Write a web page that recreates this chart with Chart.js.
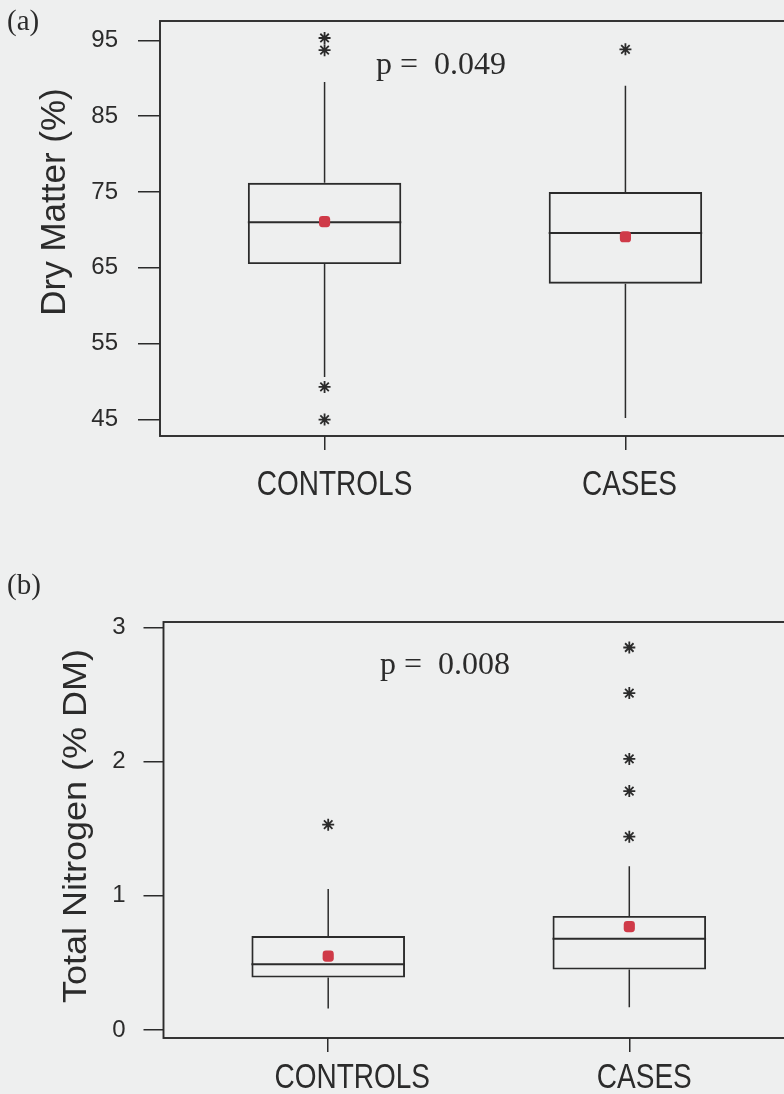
<!DOCTYPE html>
<html>
<head>
<meta charset="utf-8">
<script src="https://cdn.jsdelivr.net/npm/chart.js@4.4.1/dist/chart.umd.min.js"></script>
<style>
  html, body { margin: 0; padding: 0; background: #eeefef; width: 784px; height: 1094px; overflow: hidden; }
  .panel { position: absolute; left: 0; }
  #pa { top: 0; }
  #pb { top: 545px; }
  canvas { display: block; }
</style>
</head>
<body>
<div class="panel" id="pa"><canvas id="ca" width="820" height="545"></canvas></div>
<div class="panel" id="pb"><canvas id="cb" width="820" height="549"></canvas></div>
<script>
// ---- data ----
const groups = ['CONTROLS', 'CASES'];

// (a) Dry matter (%)
const dmQ1      = [65.5, 62.9];
const dmMedian  = [71.0, 69.6];
const dmQ3      = [76.2, 75.0];
const dmLow     = [50.6, 45.2];
const dmHigh    = [89.5, 89.0];
const dmMean    = [71.1, 69.1];
const dmOutliers = [[95.3, 93.7, 49.3, 45.0], [93.8]];
const dmTicks   = [45, 55, 65, 75, 85, 95];
const dmP       = 'p =  0.049';

// (b) Total nitrogen (% DM)
const tnQ1      = [0.39, 0.45];
const tnMedian  = [0.49, 0.68];
const tnQ3      = [0.70, 0.85];
const tnLow     = [0.16, 0.17];
const tnHigh    = [1.05, 1.22];
const tnMean    = [0.55, 0.77];
const tnOutliers = [[1.53], [2.85, 2.51, 2.02, 1.78, 1.44]];
const tnTicks   = [0, 1, 2, 3];
const tnP       = 'p =  0.008';

// ---- styling ----
const INK = '#2b2b2b';
const MEAN_RED = '#cf3a48';
const BOX_WIDTH = 0.51;          // box width in x-axis units
const HALF = BOX_WIDTH / 2;

function buildDatasets(q1, med, q3, lo, hi, mean, outliers) {
  const boxes = groups.map((g, i) => ({ x: i + 1, y: [q1[i], q3[i]] }));
  const whiskers = [];
  const medians = [];
  groups.forEach((g, i) => {
    const x = i + 1;
    whiskers.push({ x, y: q3[i] }, { x, y: hi[i] }, { x, y: null },
                  { x, y: q1[i] }, { x, y: lo[i] }, { x, y: null });
    medians.push({ x: x - HALF, y: med[i] }, { x: x + HALF, y: med[i] }, { x, y: null });
  });
  const means = groups.map((g, i) => ({ x: i + 1, y: mean[i] }));
  const outs = [];
  outliers.forEach((arr, i) => arr.forEach(v => outs.push({ x: i + 1, y: v })));
  return [
    { type: 'line', data: whiskers, borderColor: INK, borderWidth: 1.5, pointRadius: 0, spanGaps: false, order: 4 },
    { type: 'bar', data: boxes, backgroundColor: 'rgba(0,0,0,0)', borderColor: INK, borderWidth: 1.9,
      borderSkipped: false, barPercentage: BOX_WIDTH, categoryPercentage: 1, order: 3 },
    { type: 'line', data: medians, borderColor: INK, borderWidth: 2, pointRadius: 0, spanGaps: false, order: 2 },
    { type: 'scatter', data: means, pointStyle: 'rectRounded', radius: 6.5, backgroundColor: MEAN_RED,
      borderWidth: 0, order: 1 },
    { type: 'scatter', data: outs, pointStyle: 'star', radius: 6, borderColor: INK, borderWidth: 1.8,
      backgroundColor: INK, order: 0 }
  ];
}

function panel(canvasId, p) {
  const decor = {
    id: 'decor',
    beforeDatasetsDraw(chart) {
      const ctx = chart.ctx, a = chart.chartArea;
      ctx.save();
      ctx.strokeStyle = INK;
      ctx.lineWidth = 1.9;
      ctx.strokeRect(a.left, a.top, a.right - a.left, a.bottom - a.top);
      ctx.restore();
    },
    afterDraw(chart) {
      const ctx = chart.ctx, a = chart.chartArea, xs = chart.scales.x;
      ctx.save();
      ctx.fillStyle = INK;
      ctx.textBaseline = 'alphabetic';
      // panel tag
      ctx.textAlign = 'left';
      ctx.font = '29px "Liberation Serif", "DejaVu Serif", serif';
      ctx.fillText(p.tag, 7, p.tagY);
      // p-value
      ctx.font = '32px "Liberation Serif", "DejaVu Serif", serif';
      ctx.fillText(p.pText, p.pX, p.pY);
      // group labels under the x ticks
      groups.forEach((g, i) => {
        const px = xs.getPixelForValue(i + 1) + p.labelShift[i];
        ctx.save();
        ctx.translate(px, a.bottom + p.labelDy);
        ctx.scale(0.8, 1);
        ctx.font = '35px "Liberation Sans", Arial, sans-serif';
        ctx.textAlign = 'center';
        ctx.fillText(g, 0, 0);
        ctx.restore();
      });
      // y-axis title
      ctx.save();
      ctx.translate(p.titleX, p.titleY);
      ctx.rotate(-Math.PI / 2);
      ctx.scale(1, p.titleSquash);
      ctx.font = p.titleSize + 'px "Liberation Sans", Arial, sans-serif';
      ctx.textAlign = 'center';
      ctx.textBaseline = 'middle';
      ctx.fillText(p.title, 0, 0);
      ctx.restore();
      ctx.restore();
    }
  };

  const canvas = document.getElementById(canvasId);
  return new Chart(canvas, {
    type: 'bar',
    data: { datasets: buildDatasets(p.q1, p.med, p.q3, p.lo, p.hi, p.mean, p.outliers) },
    options: {
      responsive: false,
      animation: false,
      events: [],
      layout: { padding: { left: 0, top: p.top, right: canvas.width - p.right, bottom: 0 } },
      plugins: { legend: { display: false }, tooltip: { enabled: false } },
      scales: {
        x: {
          type: 'linear',
          min: 0.453, max: 2.547,
          offset: false,
          border: { display: false },
          grid: { display: true, offset: false, drawOnChartArea: false, drawTicks: true, tickLength: 14,
                  color: INK, lineWidth: 1.5 },
          ticks: { display: false },
          afterBuildTicks: s => { s.ticks = groups.map((g, i) => ({ value: i + 1 })); },
          afterFit: s => {
            s.height = canvas.height - p.bottom;
            s.paddingLeft = 0; s.paddingRight = 0;
          }
        },
        y: {
          type: 'linear',
          min: p.yMin, max: p.yMax,
          border: { display: false },
          grid: { display: true, offset: false, drawOnChartArea: false, drawTicks: true, tickLength: p.tickLen,
                  color: INK, lineWidth: 1.5 },
          ticks: {
            color: INK, padding: p.tickPad,
            font: { family: '"Liberation Sans", Arial, sans-serif', size: p.tickSize },
            callback: v => String(v)
          },
          afterBuildTicks: s => { s.ticks = p.ticks.map(v => ({ value: v })); },
          afterFit: s => {
            s.width = p.left;
            s.paddingTop = 0; s.paddingBottom = 0;
          }
        }
      }
    },
    plugins: [decor]
  });
}

panel('ca', {
  q1: dmQ1, med: dmMedian, q3: dmQ3, lo: dmLow, hi: dmHigh, mean: dmMean, outliers: dmOutliers,
  ticks: dmTicks, yMin: 42.83, yMax: 97.54,
  left: 160, right: 790, top: 21, bottom: 436,
  tickLen: 22, tickPad: 20, tickSize: 24,
  tag: '(a)', tagY: 30,
  pText: dmP, pX: 376, pY: 74,
  labelShift: [10, 4], labelDy: 59,
  title: 'Dry Matter (%)', titleX: 55, titleY: 202, titleSize: 35, titleSquash: 1
});

panel('cb', {
  q1: tnQ1, med: tnMedian, q3: tnQ3, lo: tnLow, hi: tnHigh, mean: tnMean, outliers: tnOutliers,
  ticks: tnTicks, yMin: -0.06, yMax: 3.04,
  left: 163.5, right: 794, top: 77, bottom: 493,
  tickLen: 20, tickPad: 18, tickSize: 24,
  tag: '(b)', tagY: 49,
  pText: tnP, pX: 380, pY: 129,
  labelShift: [24, 15], labelDy: 50,
  title: 'Total Nitrogen (% DM)', titleX: 77, titleY: 281, titleSize: 36, titleSquash: 0.9
});
</script>
</body>
</html>
